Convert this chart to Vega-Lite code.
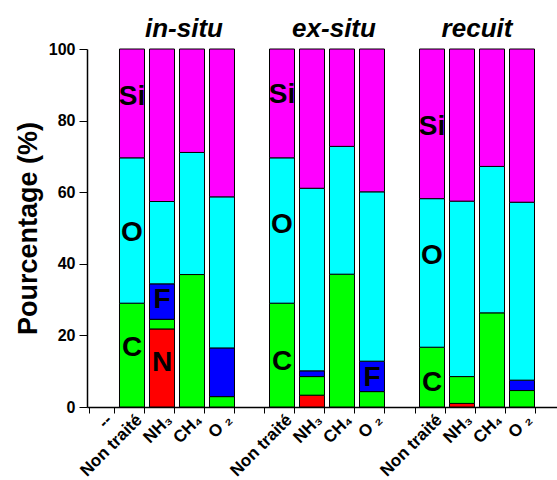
{
  "$schema": "https://vega.github.io/schema/vega-lite/v6.json",
  "width": 470,
  "height": 358,
  "autosize": "none",
  "padding": {"left": 87, "top": 49, "right": 0, "bottom": 73},
  "config": {"view": {"stroke": null}, "font": "Liberation Sans"},
  "datasets": {
    "comp": [
      {"cat": "is|Non traité", "elem": "C", "value": 29.0},
      {"cat": "is|Non traité", "elem": "O", "value": 40.6},
      {"cat": "is|Non traité", "elem": "Si", "value": 30.4},
      {"cat": "is|NH₃", "elem": "N", "value": 21.8},
      {"cat": "is|NH₃", "elem": "C", "value": 2.7},
      {"cat": "is|NH₃", "elem": "F", "value": 9.9},
      {"cat": "is|NH₃", "elem": "O", "value": 23.0},
      {"cat": "is|NH₃", "elem": "Si", "value": 42.6},
      {"cat": "is|CH₄", "elem": "C", "value": 37.0},
      {"cat": "is|CH₄", "elem": "O", "value": 34.1},
      {"cat": "is|CH₄", "elem": "Si", "value": 28.9},
      {"cat": "is|O ₂", "elem": "C", "value": 2.9},
      {"cat": "is|O ₂", "elem": "F", "value": 13.6},
      {"cat": "is|O ₂", "elem": "O", "value": 42.2},
      {"cat": "is|O ₂", "elem": "Si", "value": 41.3},
      {"cat": "ex|Non traité", "elem": "C", "value": 29.0},
      {"cat": "ex|Non traité", "elem": "O", "value": 40.6},
      {"cat": "ex|Non traité", "elem": "Si", "value": 30.4},
      {"cat": "ex|NH₃", "elem": "N", "value": 3.3},
      {"cat": "ex|NH₃", "elem": "C", "value": 5.2},
      {"cat": "ex|NH₃", "elem": "F", "value": 1.6},
      {"cat": "ex|NH₃", "elem": "O", "value": 51.0},
      {"cat": "ex|NH₃", "elem": "Si", "value": 38.9},
      {"cat": "ex|CH₄", "elem": "C", "value": 37.1},
      {"cat": "ex|CH₄", "elem": "O", "value": 35.7},
      {"cat": "ex|CH₄", "elem": "Si", "value": 27.2},
      {"cat": "ex|O ₂", "elem": "C", "value": 4.3},
      {"cat": "ex|O ₂", "elem": "F", "value": 8.5},
      {"cat": "ex|O ₂", "elem": "O", "value": 47.3},
      {"cat": "ex|O ₂", "elem": "Si", "value": 39.9},
      {"cat": "re|Non traité", "elem": "C", "value": 16.7},
      {"cat": "re|Non traité", "elem": "O", "value": 41.5},
      {"cat": "re|Non traité", "elem": "Si", "value": 41.8},
      {"cat": "re|NH₃", "elem": "N", "value": 1.0},
      {"cat": "re|NH₃", "elem": "C", "value": 7.5},
      {"cat": "re|NH₃", "elem": "O", "value": 49.0},
      {"cat": "re|NH₃", "elem": "Si", "value": 42.5},
      {"cat": "re|CH₄", "elem": "C", "value": 26.3},
      {"cat": "re|CH₄", "elem": "O", "value": 40.9},
      {"cat": "re|CH₄", "elem": "Si", "value": 32.8},
      {"cat": "re|O ₂", "elem": "C", "value": 4.6},
      {"cat": "re|O ₂", "elem": "F", "value": 2.9},
      {"cat": "re|O ₂", "elem": "O", "value": 49.7},
      {"cat": "re|O ₂", "elem": "Si", "value": 42.8}
    ],
    "labels": [
      {"cat": "is|Non traité", "text": "Si", "pos": 86.6},
      {"cat": "is|Non traité", "text": "O", "pos": 48.6},
      {"cat": "is|Non traité", "text": "C", "pos": 16.5},
      {"cat": "is|NH₃", "text": "F", "pos": 29.9},
      {"cat": "is|NH₃", "text": "N", "pos": 12.3},
      {"cat": "ex|Non traité", "text": "Si", "pos": 87.2},
      {"cat": "ex|Non traité", "text": "O", "pos": 50.8},
      {"cat": "ex|Non traité", "text": "C", "pos": 12.5},
      {"cat": "ex|O ₂", "text": "F", "pos": 8.1},
      {"cat": "re|Non traité", "text": "Si", "pos": 78.1},
      {"cat": "re|Non traité", "text": "O", "pos": 42.2},
      {"cat": "re|Non traité", "text": "C", "pos": 6.7}
    ],
    "titles": [
      {"cat": "is|NH₃", "text": "in-situ", "pos": 103.4},
      {"cat": "ex|NH₃", "text": "ex-situ", "pos": 103.4}
    ],
    "titles2": [
      {"cat": "re|NH₃", "text": "recuit", "pos": 103.4}
    ]
  },
  "layer": [
    {
      "data": {"name": "comp"},
      "transform": [
        {"calculate": "indexof(['N','C','F','O','Si'], datum.elem)", "as": "stackorder"}
      ],
      "mark": {"type": "bar", "stroke": "black", "strokeWidth": 1},
      "encoding": {
        "x": {
          "field": "cat",
          "type": "nominal",
          "scale": {
            "type": "band",
            "domain": ["a|--", "is|Non traité", "is|NH₃", "is|CH₄", "is|O ₂", "g1|", "ex|Non traité", "ex|NH₃", "ex|CH₄", "ex|O ₂", "g2|", "re|Non traité", "re|NH₃", "re|CH₄", "re|O ₂", "g3|"],
            "range": [0, 480],
            "paddingInner": 0.1667,
            "paddingOuter": 0.0833
          },
          "axis": {
            "title": null,
            "tickBand": "extent",
            "labelExpr": "split(datum.value, '|')[1]",
            "labelAngle": -45,
            "labelAlign": "right",
            "labelBaseline": "middle",
            "labelFontSize": 17,
            "labelFontWeight": "bold",
            "labelColor": "black",
            "labelOffset": 7,
            "labelPadding": 4,
            "tickColor": "black",
            "tickSize": 6,
            "domainColor": "black",
            "domainWidth": 1.5,
            "labelOverlap": false
          }
        },
        "y": {
          "field": "value",
          "type": "quantitative",
          "stack": "zero",
          "scale": {"domain": [0, 100], "nice": false},
          "axis": {
            "title": "Pourcentage (%)",
            "titleFontSize": 27,
            "titleFontWeight": "bold",
            "titleColor": "black",
            "titlePadding": 6,
            "values": [0, 10, 20, 30, 40, 50, 60, 70, 80, 90, 100],
            "labelExpr": "datum.value % 20 === 0 ? datum.label : ''",
            "tickSize": {"condition": {"test": "datum.value % 20 === 0", "value": 8}, "value": 4},
            "grid": false,
            "labelFontSize": 16,
            "labelFontWeight": "bold",
            "labelColor": "black",
            "labelPadding": 4,
            "tickColor": "black",
            "domainColor": "black",
            "domainWidth": 1.5
          }
        },
        "color": {
          "field": "elem",
          "type": "nominal",
          "scale": {"domain": ["N", "C", "F", "O", "Si"], "range": ["#ff0000", "#00ff00", "#0000ff", "#00ffff", "#ff00ff"]},
          "legend": null
        },
        "order": {"field": "stackorder", "type": "quantitative", "sort": "ascending"}
      }
    },
    {
      "data": {"name": "labels"},
      "mark": {"type": "text", "fontSize": 28, "fontWeight": "bold", "color": "black", "align": "center", "baseline": "middle"},
      "encoding": {
        "x": {"field": "cat", "type": "nominal"},
        "y": {"field": "pos", "type": "quantitative"},
        "text": {"field": "text"}
      }
    },
    {
      "data": {"name": "titles"},
      "mark": {"type": "text", "fontSize": 26, "fontWeight": "bold", "fontStyle": "italic", "color": "black", "align": "center", "baseline": "alphabetic", "dx": 22},
      "encoding": {
        "x": {"field": "cat", "type": "nominal"},
        "y": {"field": "pos", "type": "quantitative"},
        "text": {"field": "text"}
      }
    },
    {
      "data": {"name": "titles2"},
      "mark": {"type": "text", "fontSize": 26, "fontWeight": "bold", "fontStyle": "italic", "color": "black", "align": "center", "baseline": "alphabetic", "dx": 15},
      "encoding": {
        "x": {"field": "cat", "type": "nominal"},
        "y": {"field": "pos", "type": "quantitative"},
        "text": {"field": "text"}
      }
    }
  ]
}
